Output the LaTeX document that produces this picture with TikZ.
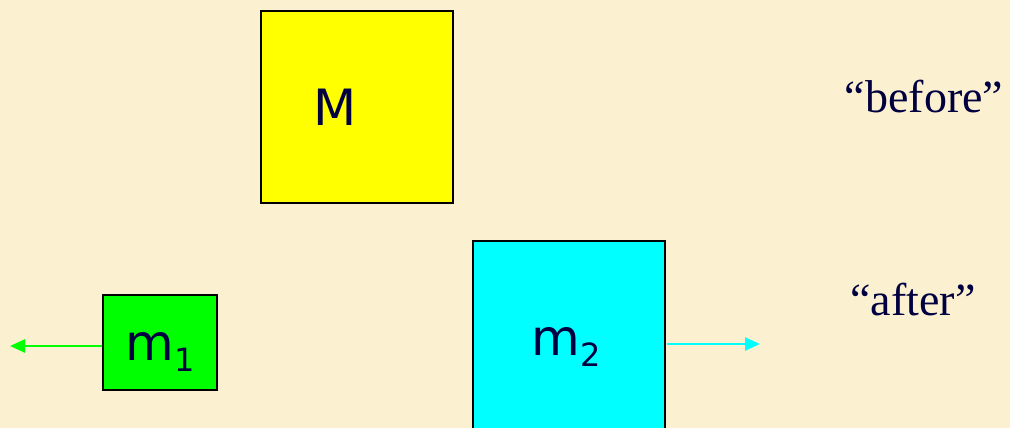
\documentclass[tikz,border=0pt]{standalone}
\usepackage{fontspec}
\setmainfont{Liberation Serif}
\newfontfamily\boxfont{DejaVu Sans}
\usetikzlibrary{arrows.meta}
\definecolor{bgcream}{RGB}{251,240,208}
\definecolor{inkblue}{RGB}{0,0,64}
\definecolor{boxyellow}{RGB}{255,255,0}
\definecolor{boxgreen}{RGB}{0,255,0}
\definecolor{boxcyan}{RGB}{0,255,255}
\newcommand{\masssub}[1]{\raisebox{-11pt}{\fontsize{32}{40}\selectfont #1}}
\tikzset{
  massbox/.style={draw=black, line width=2pt, inner sep=0pt, anchor=north west},
  masslabel/.style={text=inkblue, font=\boxfont\fontsize{50}{60}\selectfont, inner sep=0pt},
  sidelabel/.style={text=inkblue, font=\fontsize{46}{55}\selectfont, inner sep=0pt, anchor=base},
  motion/.style={line width=2.5pt, -{Triangle[length=15pt,width=13pt]}}
}
\begin{document}
\begin{tikzpicture}[x=1pt,y=-1pt]
\fill[bgcream] (0,0) rectangle (1010,428);
\useasboundingbox (0,0) rectangle (1010,428);
\begin{scope}
\clip (0,0) rectangle (1010,428);
\node[massbox, fill=boxyellow, minimum width=192pt, minimum height=192pt] (Mbox) at (260,10) {};
\node[massbox, fill=boxgreen, minimum width=114pt, minimum height=95pt] (m1box) at (102,294) {};
\node[massbox, fill=boxcyan, minimum width=192pt, minimum height=214pt] (m2box) at (472,240) {};
\end{scope}
\node[masslabel] (Mtext) at (335,107) {M};
\node[masslabel, anchor=base] (m1text) at (160,360) {m\masssub{1}};
\node[masslabel, anchor=base] (m2text) at (566,355) {m\masssub{2}};
\node[sidelabel] (before) at (924,113) {“before”};
\node[sidelabel] (after) at (913,315) {“after”};
\coordinate (m1end) at (10,346);
\coordinate (m2end) at (760,344);
\draw[motion, boxgreen] (m1box.west |- m1end) -- (m1end);
\draw[motion, boxcyan] ([xshift=1pt]m2box.east |- m2end) -- (m2end);
\end{tikzpicture}
\end{document}
